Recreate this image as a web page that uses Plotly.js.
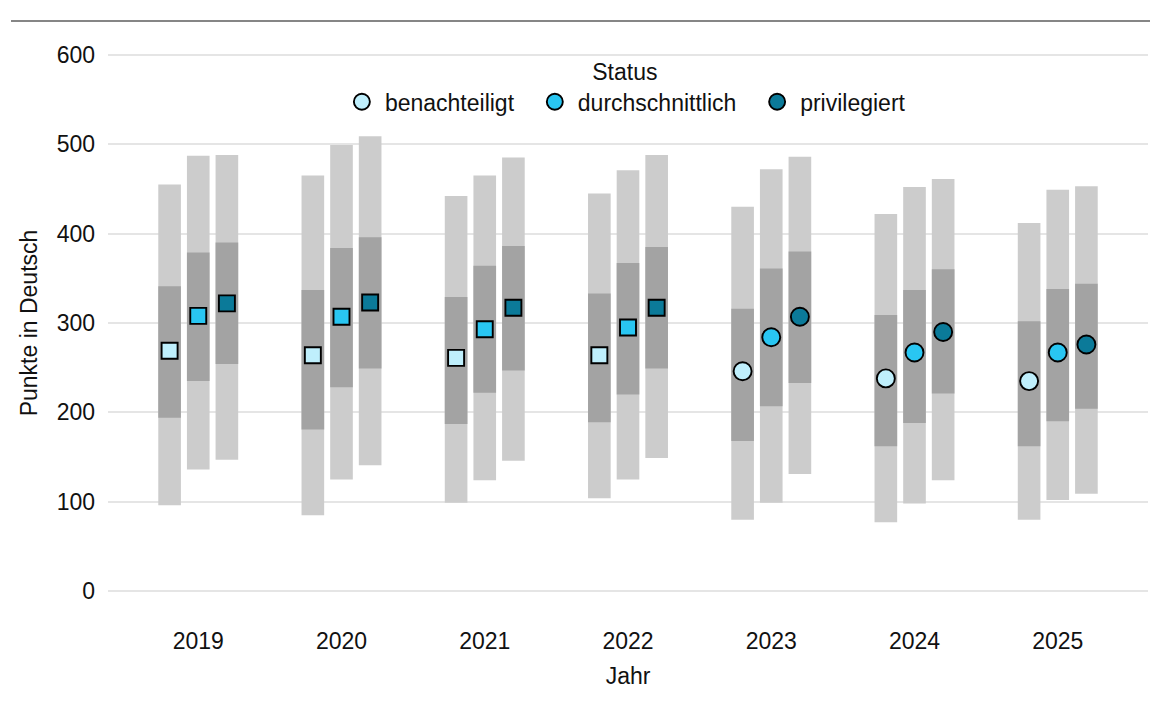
<!DOCTYPE html>
<html>
<head>
<meta charset="utf-8">
<script src="https://cdn.plot.ly/plotly-3.0.1.min.js"></script>
<style>
  html, body { margin: 0; padding: 0; background: #ffffff; }
  #chart { width: 1150px; height: 702px; }
</style>
</head>
<body>
<div id="chart"></div>
<script>
// ---- Data ----
const years = ['2019', '2020', '2021', '2022', '2023', '2024', '2025'];
const statusNames = ['benachteiligt', 'durchschnittlich', 'privilegiert'];
const statusColors = ['#BFEFFC', '#29C6F2', '#0B7A99'];
// marker shape per year (squares up to 2022, circles afterwards)
const yearSymbols = ['square', 'square', 'square', 'square', 'circle', 'circle', 'circle'];

// benachteiligt
const benP05  = [96, 85, 99, 104, 80, 77, 80];
const benP25  = [194, 181, 187, 189, 168, 162, 162];
const benMean = [269, 264, 261, 264, 246, 238, 235];
const benP75  = [341, 337, 329, 333, 316, 309, 302];
const benP95  = [455, 465, 442, 445, 430, 422, 412];
// durchschnittlich
const durP05  = [136, 125, 124, 125, 99, 98, 102];
const durP25  = [235, 228, 222, 220, 207, 188, 190];
const durMean = [308, 307, 293, 295, 284, 267, 267];
const durP75  = [379, 384, 364, 367, 361, 337, 338];
const durP95  = [487, 499, 465, 471, 472, 452, 449];
// privilegiert
const priP05  = [147, 141, 146, 149, 131, 124, 109];
const priP25  = [254, 249, 247, 249, 233, 221, 204];
const priMean = [322, 323, 317, 317, 307, 290, 276];
const priP75  = [390, 396, 386, 385, 380, 360, 344];
const priP95  = [488, 509, 485, 488, 486, 461, 453];

const yTicks = [0, 100, 200, 300, 400, 500, 600];

// ---- Build traces ----
const groups = [
  {p05: benP05, p25: benP25, mean: benMean, p75: benP75, p95: benP95},
  {p05: durP05, p25: durP25, mean: durMean, p75: durP75, p95: durP95},
  {p05: priP05, p25: priP25, mean: priMean, p75: priP75, p95: priP95}
];
const dodge = [-0.2, 0, 0.2];
const barWidth = 0.158;
const FONT = 'Liberation Sans, Arial, Helvetica, sans-serif';
const TXT = '#111111';
// extra spacing after legend entries (non-breaking spaces) to match the reference gaps
const legendPad = ['\u00a0\u00a0', '\u00a0\u00a0', ''];

const outerTraces = [], innerTraces = [], pointTraces = [], legendTraces = [];
groups.forEach(function (g, k) {
  const xs = years.map(function (_, i) { return i + dodge[k]; });
  outerTraces.push({
    type: 'bar', x: xs,
    base: g.p05, y: g.p95.map(function (v, i) { return v - g.p05[i]; }),
    width: barWidth, marker: {color: '#CCCCCC', line: {width: 0}},
    showlegend: false, hoverinfo: 'skip'
  });
  innerTraces.push({
    type: 'bar', x: xs,
    base: g.p25, y: g.p75.map(function (v, i) { return v - g.p25[i]; }),
    width: barWidth, marker: {color: '#A3A3A3', line: {width: 0}},
    showlegend: false, hoverinfo: 'skip'
  });
  pointTraces.push({
    type: 'scatter', mode: 'markers', x: xs, y: g.mean,
    marker: {
      color: statusColors[k],
      opacity: 1,
      symbol: yearSymbols,
      size: yearSymbols.map(function (s) { return s === 'square' ? 16 : 18; }),
      line: {color: '#000000', width: 1.9}
    },
    showlegend: false, name: statusNames[k]
  });
  legendTraces.push({
    type: 'scatter', mode: 'markers', x: [null], y: [null],
    name: statusNames[k] + legendPad[k],
    marker: {color: statusColors[k], opacity: 1, symbol: 'circle', size: 17, line: {color: '#000000', width: 1.9}},
    showlegend: true
  });
});

const data = outerTraces.concat(innerTraces, pointTraces, legendTraces);

const layout = {
  width: 1150, height: 702,
  paper_bgcolor: '#FFFFFF', plot_bgcolor: '#FFFFFF',
  margin: {l: 108, r: 2, t: 28, b: 84, pad: 0},
  barmode: 'overlay',
  font: {family: FONT, size: 23, color: TXT},
  xaxis: {
    range: [-0.63, 6.63],
    tickmode: 'array', tickvals: years.map(function (_, i) { return i; }), ticktext: years,
    showgrid: false, zeroline: false, showline: false, ticks: '',
    tickfont: {family: FONT, size: 23, color: TXT},
    ticklabelstandoff: 7,
    title: {text: 'Jahr', font: {family: FONT, size: 23, color: TXT}, standoff: 14},
    fixedrange: true
  },
  yaxis: {
    range: [-30, 630],
    tickmode: 'array', tickvals: yTicks, ticktext: yTicks.map(String),
    showgrid: true, gridcolor: '#E5E5E5', gridwidth: 1.8,
    zeroline: false, showline: false, ticks: '',
    tickfont: {family: FONT, size: 23, color: TXT},
    ticklabelstandoff: 12,
    title: {text: 'Punkte in Deutsch', font: {family: FONT, size: 23, color: TXT}, standoff: 12},
    fixedrange: true
  },
  legend: {
    orientation: 'h',
    x: 0.497, xanchor: 'center',
    y: 0.962, yanchor: 'top',
    bgcolor: 'rgba(0,0,0,0)',
    itemwidth: 36,
    font: {family: FONT, size: 23, color: TXT},
    title: {text: 'Status', side: 'top center', font: {family: FONT, size: 23, color: TXT}},
    itemclick: false, itemdoubleclick: false
  },
  shapes: [{
    type: 'line', xref: 'paper', yref: 'paper',
    x0: -0.0933, x1: 1.002, y0: 1.0119, y1: 1.0119,
    line: {color: '#5E5E5E', width: 1.6}
  }],
  showlegend: true
};

Plotly.newPlot('chart', data, layout, {displayModeBar: false, staticPlot: true});
</script>
</body>
</html>
